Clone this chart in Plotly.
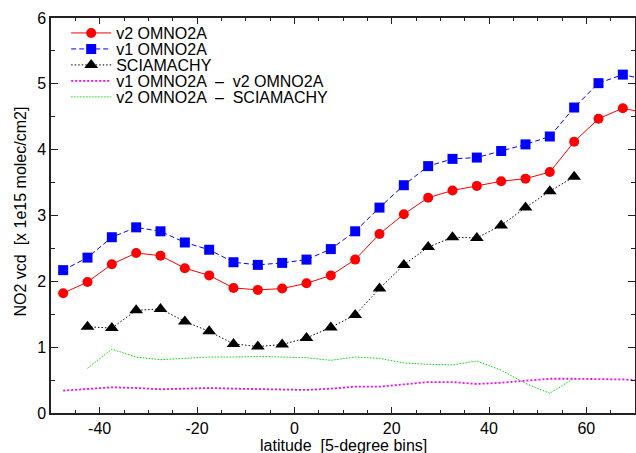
import plotly.graph_objects as go

lat = [-47.5, -42.5, -37.5, -32.5, -27.5, -22.5, -17.5, -12.5, -7.5, -2.5, 2.5, 7.5,
       12.5, 17.5, 22.5, 27.5, 32.5, 37.5, 42.5, 47.5, 52.5, 57.5, 62.5, 67.5, 72.5]

v2 = [1.82, 1.99, 2.26, 2.43, 2.39, 2.20, 2.09, 1.90, 1.87, 1.89, 1.97, 2.09,
      2.33, 2.72, 3.02, 3.27, 3.38, 3.45, 3.52, 3.56, 3.66, 4.12, 4.47, 4.63, 4.55]
v1 = [2.17, 2.36, 2.67, 2.82, 2.76, 2.59, 2.48, 2.29, 2.25, 2.28, 2.33, 2.49,
      2.76, 3.12, 3.46, 3.75, 3.86, 3.88, 3.98, 4.08, 4.20, 4.64, 5.01, 5.14, 5.06]
scia = [None, 1.31, 1.29, 1.56, 1.58, 1.39, 1.24, 1.05, 1.01, 1.04, 1.14, 1.30,
        1.49, 1.89, 2.25, 2.52, 2.67, 2.66, 2.85, 3.12, 3.37, 3.59, None, None, None]
d_v1_v2 = [0.34, 0.37, 0.39, 0.38, 0.36, 0.37, 0.38, 0.37, 0.36, 0.36, 0.35, 0.37,
           0.40, 0.40, 0.44, 0.47, 0.47, 0.44, 0.46, 0.49, 0.52, 0.52, 0.52, 0.51, 0.49]
d_v2_scia = [None, 0.68, 0.97, 0.85, 0.81, 0.83, 0.85, 0.85, 0.86, 0.85, 0.84, 0.80,
             0.85, 0.83, 0.76, 0.74, 0.73, 0.79, 0.65, 0.45, 0.30, 0.53, None, None, None]

x_tickvals = [-40, -20, 0, 20, 40, 60]
x_ticktext = ["-40", "-20", "0", "20", "40", "60"]
y_tickvals = [0, 1, 2, 3, 4, 5, 6]
y_ticktext = ["0", "1", "2", "3", "4", "5", "6"]

series_names = ["v2 OMNO2A", "v1 OMNO2A", "SCIAMACHY",
                "v1 OMNO2A  \u2013  v2 OMNO2A", "v2 OMNO2A  \u2013  SCIAMACHY"]
x_title = "latitude  [5-degree bins]"
y_title = "NO2 vcd  [x 1e15 molec/cm2]"

FONT = "Liberation Sans, Arial, Helvetica, sans-serif"

fig = go.Figure()
fig.add_trace(go.Scatter(x=lat, y=v2, name=series_names[0], mode="lines+markers", legend="legend",
                         showlegend=True,
                         line=dict(color="#ff0000", width=1),
                         marker=dict(symbol="circle", size=10, color="#ff0000")))
fig.add_trace(go.Scatter(x=lat, y=v1, name=series_names[1], mode="lines+markers", legend="legend2",
                         showlegend=True,
                         line=dict(color="#0000ff", width=1, dash="5px,3px"),
                         marker=dict(symbol="square", size=10, color="#0000ff")))
fig.add_trace(go.Scatter(x=lat, y=scia, name=series_names[2], mode="lines+markers", legend="legend3",
                         showlegend=True,
                         line=dict(color="#000000", width=1, dash="1.5px,2px"),
                         marker=dict(symbol="triangle-up", size=12, color="#000000")))
fig.add_trace(go.Scatter(x=lat, y=d_v1_v2, name=series_names[3], mode="lines", legend="legend4",
                         showlegend=True,
                         line=dict(color="#ff00ff", width=1.8, dash="2px,2px")))
fig.add_trace(go.Scatter(x=lat, y=d_v2_scia, name=series_names[4], mode="lines", legend="legend5",
                         showlegend=True,
                         line=dict(color="#00dd00", width=1, dash="1.5px,1.5px")))

axis_common = dict(showgrid=False, zeroline=False, showline=True, linecolor="#222",
                   linewidth=1.5, mirror="allticks", ticks="inside", tickcolor="#222",
                   tickmode="array", automargin=False,
                   tickfont=dict(family=FONT, size=16, color="#000"))

fig.update_xaxes(range=[-50, 70], tickvals=x_tickvals, ticktext=x_ticktext, ticklen=6, tickwidth=1,
                 minor=dict(dtick=5, tick0=0, ticks="inside", ticklen=3, tickcolor="#222"),
                 **axis_common)
fig.update_yaxes(range=[0, 6], tickvals=y_tickvals, ticktext=y_ticktext, ticklen=7, tickwidth=1,
                 minor=dict(dtick=0.5, tick0=0, ticks="inside", ticklen=4, tickcolor="#222"),
                 **axis_common)

leg_base = dict(x=0.026, xanchor="left", yanchor="top", bgcolor="rgba(0,0,0,0)",
                font=dict(family=FONT, size=16, color="#000"), itemwidth=40)
leg_y = [1.005, 0.9645, 0.924, 0.8835, 0.843]

fig.update_layout(
    width=636, height=453,
    margin=dict(l=51, r=1, t=18, b=40),
    plot_bgcolor="white", paper_bgcolor="white",
    showlegend=True,
    font=dict(family=FONT, size=16, color="#000"),
    legend=dict(y=leg_y[0], **leg_base),
    legend2=dict(y=leg_y[1], **leg_base),
    legend3=dict(y=leg_y[2], **leg_base),
    legend4=dict(y=leg_y[3], **leg_base),
    legend5=dict(y=leg_y[4], **leg_base),
    annotations=[
        dict(text=x_title, xref="paper", yref="paper", x=0.5, y=0, xanchor="center", yanchor="top",
             yshift=-23, showarrow=False, borderpad=0,
             font=dict(family=FONT, size=16, color="#000")),
        dict(text=y_title, xref="paper", yref="paper", x=0, y=0.5, xanchor="center", yanchor="middle",
             xshift=-31, yshift=4, textangle=-90, showarrow=False,
             font=dict(family=FONT, size=16, color="#000")),
    ],
)

fig.write_html("out.html")
